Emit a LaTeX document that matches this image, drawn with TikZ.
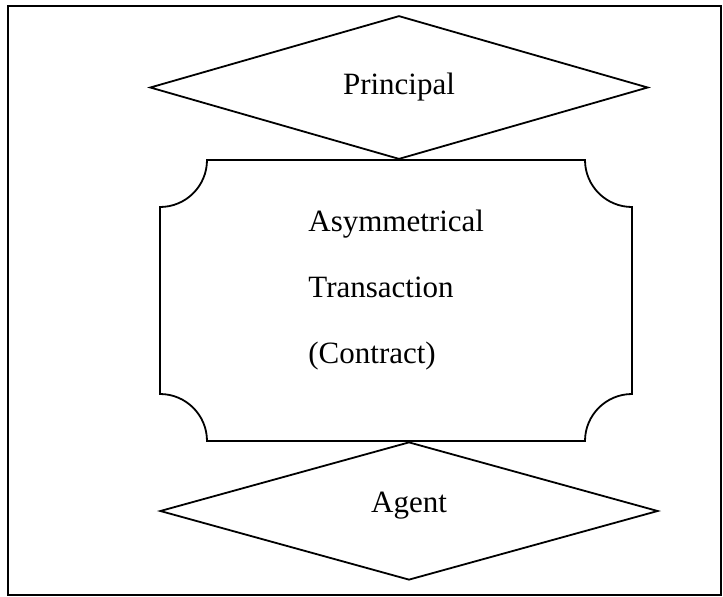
\documentclass[tikz,border=0pt]{standalone}
\usepackage{fontspec}
\setmainfont{Liberation Serif}
\usetikzlibrary{shapes.geometric}

\begin{document}
\begin{tikzpicture}[
			x=0.5pt, y=-0.5pt,
			frame/.style={line width=1pt},
			party/.style={diamond, draw, line width=0.9pt, minimum width=249pt, inner sep=0pt, font=\fontsize{15.5}{19}\selectfont},
			outline/.style={line width=0.9pt},
			lab/.style={align=left, inner sep=0pt, font=\fontsize{15.5}{33}\selectfont}
			]
			
			\useasboundingbox (0,0) rectangle (723,596);
			
			% --------------------------------------------------------------------
			% outer frame
			% --------------------------------------------------------------------
			\draw[frame] (7.5,5.7) rectangle (721,595);
			
			% --------------------------------------------------------------------
			% principal (top)
			% --------------------------------------------------------------------
			\node[party, minimum height=71.75pt] (principal) at (399,87.5) {Principal};
			
			% --------------------------------------------------------------------
			% transaction box with notched corners
			% --------------------------------------------------------------------
			\draw[outline] (207,160) -- (585,160)
				arc[start angle=180, end angle=90, radius=47] -- (632,394)
				arc[start angle=270, end angle=180, radius=47] -- (207,441)
				arc[start angle=360, end angle=270, radius=47] -- (160,207)
				arc[start angle=90, end angle=0, radius=47] -- cycle;
			
			\node[lab, anchor=west] (deal) at (308,290) {Asymmetrical\\Transaction\\(Contract)};
			
			% --------------------------------------------------------------------
			% agent (bottom)
			% --------------------------------------------------------------------
			\node[party, minimum height=69pt, text height=4.5pt, text depth=3.5pt] (agent) at (409,511) {Agent};
			
		\end{tikzpicture}
\end{document}
